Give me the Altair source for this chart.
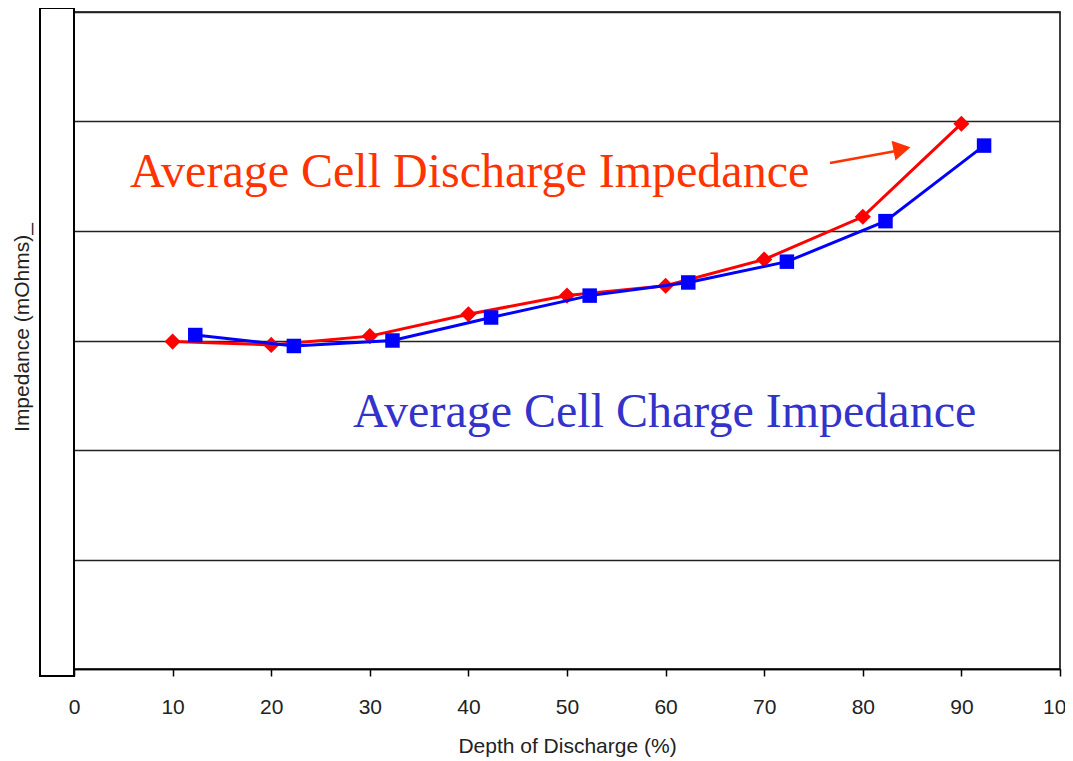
import altair as alt
import pandas as pd

# Depth of discharge (%) and impedance (relative units, gridline steps)
discharge_dod = [10, 20, 30, 40, 50, 60, 70, 80, 90]
discharge_imp = [2.99, 2.96, 3.04, 3.24, 3.41, 3.50, 3.74, 4.13, 4.98]
charge_dod = [12.3, 22.3, 32.3, 42.3, 52.3, 62.3, 72.3, 82.3, 92.3]
charge_imp = [3.05, 2.95, 3.00, 3.21, 3.41, 3.53, 3.72, 4.09, 4.78]
x_ticks = [0, 10, 20, 30, 40, 50, 60, 70, 80, 90, 100]
y_grid = [0, 1, 2, 3, 4, 5, 6]

W, H = 986, 657

dis = pd.DataFrame({"dod": discharge_dod, "imp": discharge_imp})
chg = pd.DataFrame({"dod": charge_dod, "imp": charge_imp})

xsc = alt.Scale(domain=[0, 100], nice=False, zero=False)
ysc = alt.Scale(domain=[0, 6], nice=False, zero=False)

x_enc = alt.X("dod:Q", scale=xsc, axis=alt.Axis(
    values=x_ticks, title="Depth of Discharge (%)", grid=False,
    domain=True, domainColor="black", domainWidth=1.5,
    ticks=True, tickColor="black", tickSize=7, tickWidth=1.5,
    labelFont="Liberation Sans", labelFontSize=21, labelColor="#222",
    labelPadding=20, labelFlush=False,
    titleFont="Liberation Sans", titleFontSize=21, titleFontWeight="normal",
    titleColor="#222", titlePadding=18))
y_enc = alt.Y("imp:Q", scale=ysc, axis=alt.Axis(
    values=y_grid, title="Impedance (mOhms)_", grid=True, gridColor="#222",
    gridWidth=1.5, labels=False, ticks=False, domain=False,
    titleFont="Liberation Sans", titleFontSize=21, titleFontWeight="normal",
    titleColor="#222", titleAngle=270, titleX=-52, titleY=315,
    titleAlign="center", titleBaseline="middle"))

red_line = alt.Chart(dis).mark_line(color="#FF0000", strokeWidth=3).encode(x=x_enc, y=y_enc)
red_pts = alt.Chart(dis).mark_point(shape="diamond", filled=True, color="#FF0000",
                                    size=260, opacity=1).encode(x="dod:Q", y="imp:Q")
blue_line = alt.Chart(chg).mark_line(color="#0000FF", strokeWidth=3).encode(x="dod:Q", y="imp:Q")
blue_pts = alt.Chart(chg).mark_point(shape="square", filled=True, color="#0000FF",
                                     size=210, opacity=1).encode(x="dod:Q", y="imp:Q")

box = alt.Chart(pd.DataFrame({"a": [0]})).mark_rect(
    fill="white", stroke="black", strokeWidth=2).encode(
    x=alt.value(-34), x2=alt.value(0), y=alt.value(-4), y2=alt.value(664))

red_txt = alt.Chart(pd.DataFrame({"t": ["Average Cell Discharge Impedance"]})).mark_text(
    font="Liberation Serif", fontSize=48, color="#FF3300", align="left",
    baseline="alphabetic").encode(text="t:N", x=alt.value(56), y=alt.value(175))
blue_txt = alt.Chart(pd.DataFrame({"t": ["Average Cell Charge Impedance"]})).mark_text(
    font="Liberation Serif", fontSize=48, color="#3333CC", align="left",
    baseline="alphabetic").encode(text="t:N", x=alt.value(279), y=alt.value(415))

arrow_line = alt.Chart(pd.DataFrame({"a": [0]})).mark_rule(
    color="#FF3300", strokeWidth=2.5).encode(
    x=alt.value(756), x2=alt.value(822), y=alt.value(151), y2=alt.value(139))
arrow_head = alt.Chart(pd.DataFrame({"a": [0]})).mark_point(
    shape="triangle-right", filled=True, color="#FF3300", size=400, opacity=1,
    angle=349).encode(x=alt.value(828), y=alt.value(137))

chart = alt.layer(box, red_line, red_pts, blue_line, blue_pts, red_txt, blue_txt,
                  arrow_line, arrow_head).properties(
    width=W, height=H,
    autosize=alt.AutoSizeParams(type="none"),
    padding={"left": 66, "top": 4, "right": 5, "bottom": 90},
    background="white",
).configure_view(stroke="black", strokeWidth=1.5)

chart.save("out.html", embed_options={"renderer": "svg", "actions": False})
